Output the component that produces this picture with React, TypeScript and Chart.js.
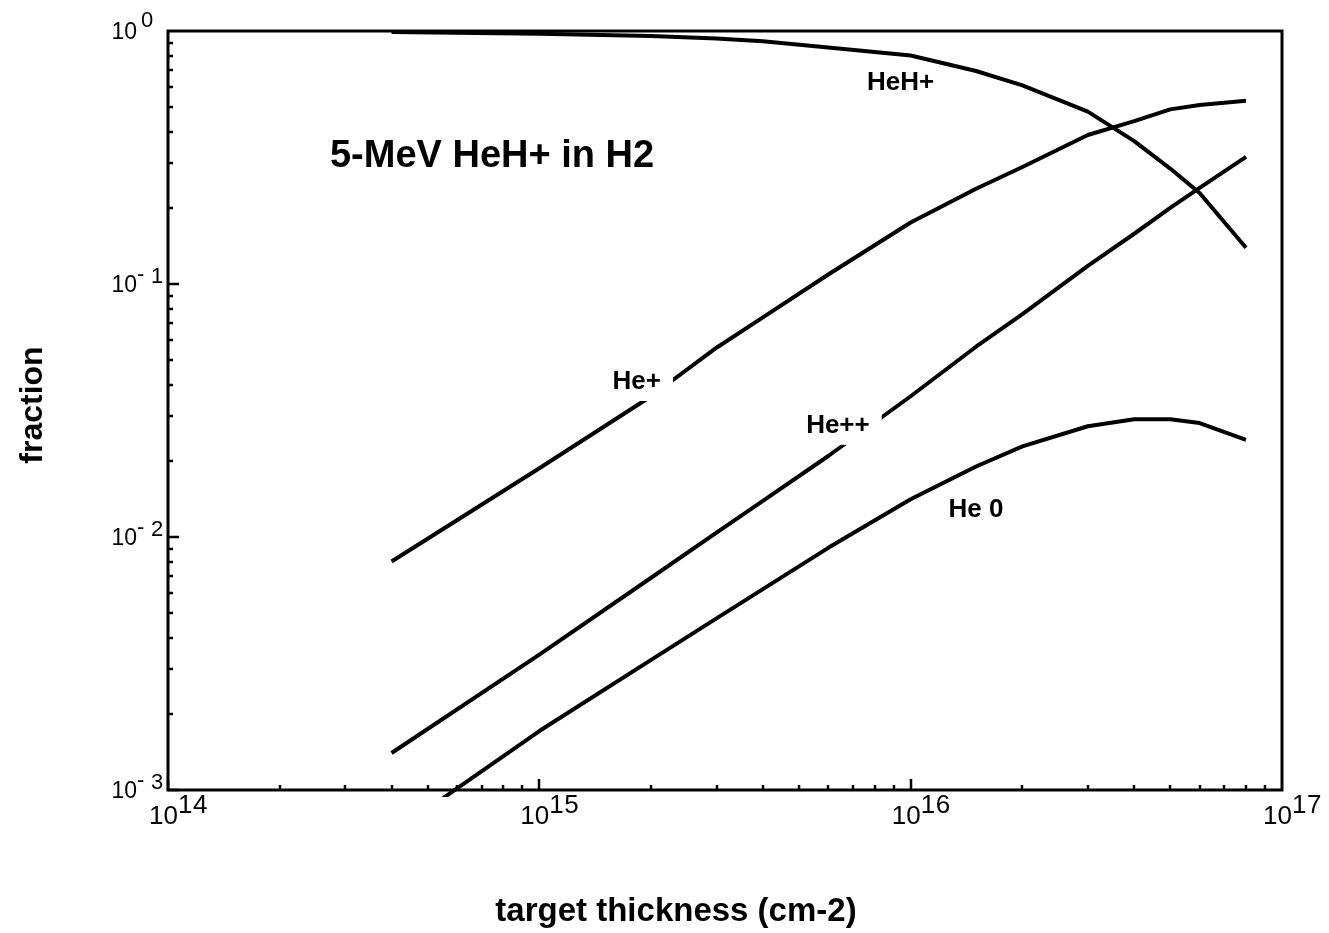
import { useEffect, useRef } from "react";
import { Chart, registerables } from "chart.js";

Chart.register(...registerables);

// Target thickness (cm^-2) at which the charge-state fractions are given
const thickness = [4e14, 1e15, 2e15, 3e15, 4e15, 6e15, 1e16, 1.5e16, 2e16, 3e16, 4e16, 5e16, 6e16, 8e16];

// Charge-state fractions of a 5-MeV HeH+ beam passing through H2
const heHPlus = [0.99, 0.975, 0.955, 0.935, 0.91, 0.86, 0.8, 0.695, 0.61, 0.48, 0.367, 0.286, 0.229, 0.139];
const hePlus = [0.008, 0.0187, 0.036, 0.056, 0.0738, 0.109, 0.175, 0.238, 0.29, 0.388, 0.44, 0.49, 0.51, 0.53];
const hePlusPlus = [0.0014, 0.00343, 0.0069, 0.0104, 0.0139, 0.0209, 0.036, 0.0565, 0.076, 0.118, 0.158, 0.2, 0.24, 0.318];
const heNeutral = [0.00067, 0.00171, 0.00327, 0.00477, 0.00622, 0.00906, 0.0141, 0.019, 0.0228, 0.0274, 0.0292, 0.0292, 0.0282, 0.0242];

// Decade exponents used for the axis tick labels
const xExponents = [14, 15, 16, 17];
const yExponents = [0, -1, -2, -3];

// In-plot curve labels, anchored in data coordinates
const curveLabels = [
  { text: "HeH+", x: 9.4e15, y: 0.623, mask: false },
  { text: "He+", x: 1.83e15, y: 0.041, mask: true },
  { text: "He++", x: 6.37e15, y: 0.0275, mask: true },
  { text: "He 0", x: 1.5e16, y: 0.0128, mask: false },
];

const plotTitle = { text: "5-MeV HeH+ in H2", x: 2.73e14, y: 0.32 };
const xTitle = "target thickness (cm-2)";
const yTitle = "fraction";

const FONT = '"Liberation Sans", Arial, Helvetica, sans-serif';

const frameAndText = {
  id: "frameAndText",
  afterDatasetsDraw(chart: any) {
    const { ctx, chartArea: a, scales } = chart;
    const xs = scales.x;
    const ys = scales.y;
    ctx.save();

    // curve labels, with a white patch that interrupts the line where needed
    ctx.font = `bold 26px ${FONT}`;
    ctx.textAlign = "center";
    ctx.textBaseline = "middle";
    for (const l of curveLabels) {
      const px = xs.getPixelForValue(l.x);
      const py = ys.getPixelForValue(l.y);
      if (l.mask) {
        const w = ctx.measureText(l.text).width;
        ctx.fillStyle = "#fff";
        ctx.fillRect(px - w / 2 - 12, py - 19, w + 24, 38);
      }
      ctx.fillStyle = "#000";
      ctx.fillText(l.text, px, py);
    }

    // plot title
    ctx.font = `bold 38px ${FONT}`;
    ctx.textAlign = "left";
    ctx.fillText(plotTitle.text, xs.getPixelForValue(plotTitle.x), ys.getPixelForValue(plotTitle.y));

    // frame
    ctx.strokeStyle = "#000";
    ctx.lineWidth = 3;
    ctx.strokeRect(a.left, a.top, a.right - a.left, a.bottom - a.top);

    // inward ticks on bottom and left axes
    ctx.lineWidth = 2.5;
    ctx.beginPath();
    for (let d = 14; d < 17; d++) {
      for (let m = 1; m <= 9; m++) {
        const px = Math.round(xs.getPixelForValue(m * Math.pow(10, d)));
        const len = m === 1 ? 11 : 5;
        ctx.moveTo(px, a.bottom);
        ctx.lineTo(px, a.bottom - len);
      }
    }
    for (let d = -3; d < 0; d++) {
      for (let m = 1; m <= 9; m++) {
        const py = Math.round(ys.getPixelForValue(m * Math.pow(10, d)));
        const len = m === 1 ? 11 : 5;
        ctx.moveTo(a.left, py);
        ctx.lineTo(a.left + len, py);
      }
    }
    ctx.stroke();

    // x tick labels: 10 with raised exponent
    ctx.textBaseline = "alphabetic";
    ctx.font = `26px ${FONT}`;
    for (const e of xExponents) {
      const px = xs.getPixelForValue(Math.pow(10, e));
      ctx.textAlign = "left";
      ctx.fillText("10", px - 19, a.bottom + 34);
      const s = String(e);
      ctx.fillText(s[0], px + 10, a.bottom + 23);
      ctx.fillText(s[1], px + 25, a.bottom + 23);
    }

    // y tick labels
    for (const e of yExponents) {
      const py = ys.getPixelForValue(Math.pow(10, e));
      ctx.font = `23px ${FONT}`;
      ctx.textAlign = "right";
      ctx.fillText("10", a.left - 31, py + 8);
      ctx.font = `22px ${FONT}`;
      ctx.textAlign = "left";
      if (e < 0) {
        ctx.fillText("-", a.left - 31, py - 3);
        ctx.fillText(String(-e), a.left - 17, py - 1);
      } else {
        ctx.fillText(String(e), a.left - 27, py - 4);
      }
    }

    // axis titles
    ctx.font = `bold 33px ${FONT}`;
    ctx.textAlign = "center";
    ctx.fillText(xTitle, 676, 921);
    ctx.save();
    ctx.font = `bold 32px ${FONT}`;
    ctx.translate(42, 405);
    ctx.rotate(-Math.PI / 2);
    ctx.fillText(yTitle, 0, 0);
    ctx.restore();

    ctx.restore();
  },
};

export default function App() {
  const canvasRef = useRef<HTMLCanvasElement | null>(null);

  useEffect(() => {
    const canvas = canvasRef.current;
    if (!canvas) return;
    const series = [heHPlus, hePlus, hePlusPlus, heNeutral];
    const names = ["HeH+", "He+", "He++", "He 0"];
    const chart = new Chart(canvas, {
      type: "line",
      data: {
        datasets: series.map((vals, i) => ({
          label: names[i],
          data: thickness.map((t, j) => ({ x: t, y: vals[j] })),
          borderColor: "#000",
          borderWidth: 4,
          pointRadius: 0,
          tension: 0,
          fill: false,
          borderJoinStyle: "round" as const,
          clip: i === 3 ? { left: 0, top: 0, right: 0, bottom: 7 } : 4,
        })),
      },
      options: {
        responsive: false,
        animation: false,
        layout: { padding: { left: 168, top: 31, right: 47, bottom: 143 } },
        plugins: { legend: { display: false }, tooltip: { enabled: false }, title: { display: false } },
        scales: {
          x: { type: "logarithmic", min: 1e14, max: 1e17, display: false },
          y: { type: "logarithmic", min: 1e-3, max: 1, display: false },
        },
      },
      plugins: [frameAndText],
    });
    return () => chart.destroy();
  }, []);

  return (
    <div style={{ position: "fixed", left: 0, top: 0, width: 1329, height: 933, background: "#fff" }}>
      <canvas ref={canvasRef} width={1329} height={933} style={{ display: "block" }} />
    </div>
  );
}
